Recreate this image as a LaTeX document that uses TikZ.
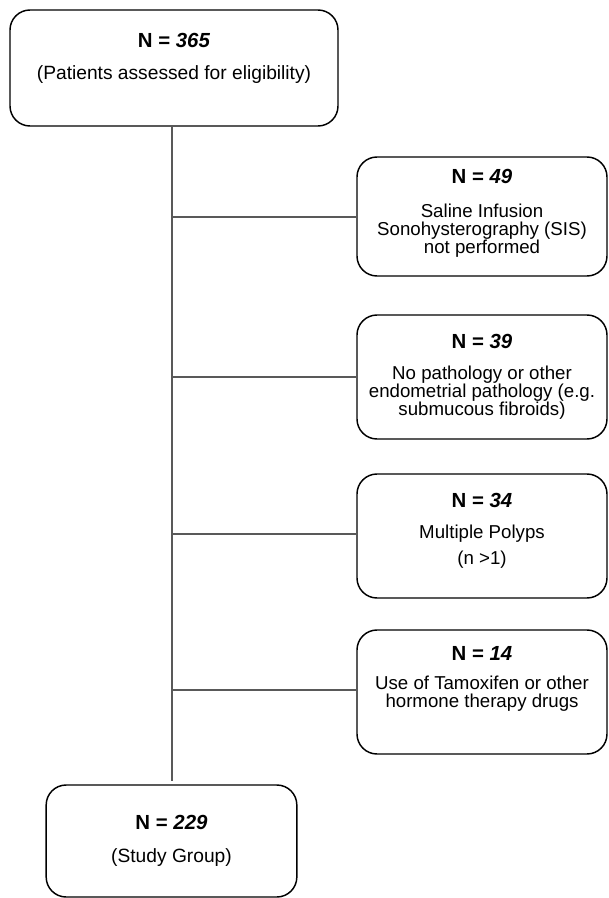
\documentclass[tikz,border=0pt]{standalone}
\usepackage{fontspec}
\setmainfont{Liberation Sans}
\begin{document}
\begin{tikzpicture}[x=0.75pt,y=-0.75pt,
  box/.style={draw=black,line width=1.1pt,rounded corners=15pt,inner sep=0pt},
  conn/.style={draw=black!65,line width=0.8pt},
  ttl/.style={font=\fontsize{15.3}{18}\selectfont\bfseries,inner sep=0pt,anchor=center},
  bigtxt/.style={font=\fontsize{14.4}{17}\selectfont,inner sep=0pt,anchor=center},
  smtxt/.style={font=\fontsize{14}{13.5}\selectfont,align=center,inner sep=0pt,anchor=center}]
\useasboundingbox (0,0) rectangle (609,898);
% boxes
\node[box,minimum width=246pt,minimum height=87pt] (top) at (174,68) {};
\node[box,minimum width=187.5pt,minimum height=89.25pt] (r1) at (482,216.5) {};
\node[box,minimum width=187.5pt,minimum height=93pt] (r2) at (482,377) {};
\node[box,minimum width=187.5pt,minimum height=93pt] (r3) at (482,536) {};
\node[box,minimum width=187.5pt,minimum height=93pt] (r4) at (482,692) {};
\node[box,minimum width=188pt,minimum height=84pt] (bot) at (171.5,841) {};
% texts
\node[ttl] (t0) at (174,40) {N = \textit{365}};
\node[bigtxt] (s0) at (174,75) {(Patients assessed for eligibility)};
\node[ttl] (t1) at (482,176) {N = \textit{49}};
\node[smtxt] (s1) at (482,231) {Saline Infusion\\Sonohysterography (SIS)\\not performed};
\node[ttl] (t2) at (482,341) {N = \textit{39}};
\node[smtxt] (s2) at (482,393) {No pathology or other\\endometrial pathology (e.g.\\submucous fibroids)};
\node[ttl] (t3) at (482,500) {N = \textit{34}};
\node[smtxt] (s3a) at (482,534) {Multiple Polyps};
\node[smtxt] (s3b) at (482,560) {(n >1)};
\node[ttl] (t4) at (482,653) {N = \textit{14}};
\node[smtxt] (s4) at (482,694) {Use of Tamoxifen or other\\hormone therapy drugs};
\node[ttl] (t5) at (171.5,822) {N = \textit{229}};
\node[bigtxt] (s5) at (171.5,858) {(Study Group)};
% connectors
\coordinate (vtop) at (172,126);
\coordinate (vbot) at (172,781);
\coordinate (j1) at (172,217);
\coordinate (j2) at (172,377);
\coordinate (j3) at (172,534);
\coordinate (j4) at (172,690);
\draw[conn] (vtop) -- (vbot);
\draw[conn] (j1) -- (j1 -| r1.west);
\draw[conn] (j2) -- (j2 -| r2.west);
\draw[conn] (j3) -- (j3 -| r3.west);
\draw[conn] (j4) -- (j4 -| r4.west);
\end{tikzpicture}
\end{document}
